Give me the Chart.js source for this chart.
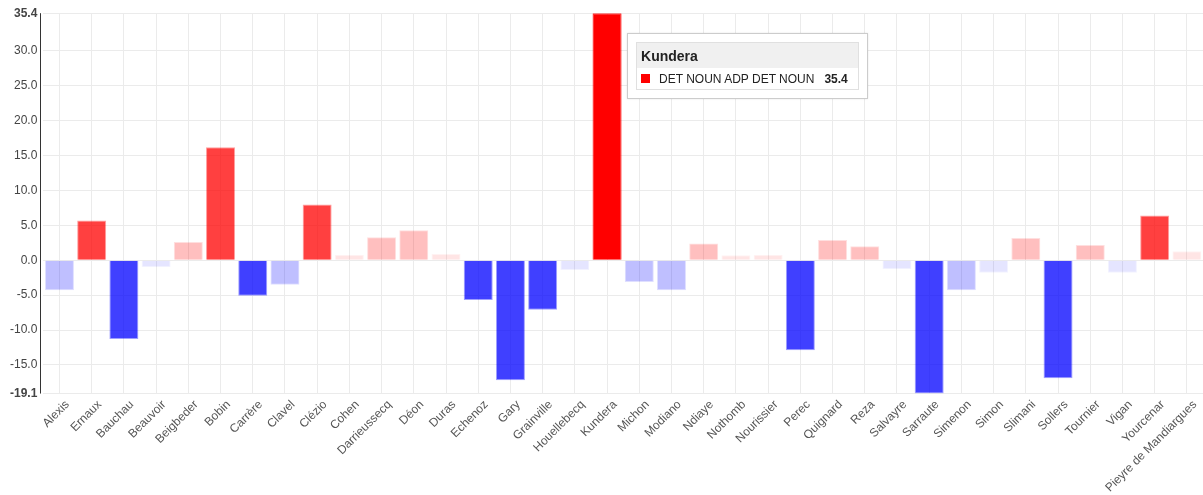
<!DOCTYPE html>
<html>
<head>
<meta charset="utf-8">
<script src="https://cdn.jsdelivr.net/npm/chart.js@4/dist/chart.umd.min.js"></script>
<style>
  html, body { margin: 0; padding: 0; background: #fff; }
  #wrap { position: relative; width: 1203px; height: 495px; overflow: hidden; }
  #tip {
    position: absolute; display: none; background: #fff;
    border: 1px solid #ccc; padding: 8px; font-family: "Liberation Sans", Arial, sans-serif;
    box-shadow: 0 0 2px rgba(0,0,0,0.1); pointer-events: none; white-space: nowrap;
  }
  #tip .head { background: #f0f0f0; border: 1px solid #e0e0e0; border-bottom: none;
    padding: 5px 4px 4px 4px; font-weight: bold; font-size: 14px; color: #222; }
  #tip .row { border: 1px solid #e0e0e0; border-top: none; padding: 4px 10px 3px 4px;
    font-size: 12px; color: #222; }
  #tip .sq { display: inline-block; width: 9px; height: 9px; margin-right: 9px; }
  #tip .val { font-weight: bold; margin-left: 10px; }
</style>
</head>
<body>
<div id="wrap">
  <canvas id="chart" width="1203" height="495"></canvas>
  <div id="tip"></div>
</div>
<script>
const AUTHORS = ['Alexis', 'Ernaux', 'Bauchau', 'Beauvoir', 'Beigbeder', 'Bobin', 'Carrère', 'Clavel',
  'Clézio', 'Cohen', 'Darrieussecq', 'Déon', 'Duras', 'Echenoz', 'Gary', 'Grainville', 'Houellebecq',
  'Kundera', 'Michon', 'Modiano', 'Ndiaye', 'Nothomb', 'Nourissier', 'Perec', 'Quignard', 'Reza',
  'Salvayre', 'Sarraute', 'Simenon', 'Simon', 'Slimani', 'Sollers', 'Tournier', 'Vigan', 'Yourcenar',
  'Pieyre de Mandiargues'];
const SCORES = [-4.3, 5.7, -11.3, -1.0, 2.6, 16.2, -5.1, -3.5,
  8.0, 0.8, 3.3, 4.3, 0.9, -5.7, -17.2, -7.1, -1.4,
  35.4, -3.1, -4.3, 2.4, 0.7, 0.8, -12.9, 2.9, 2.0,
  -1.3, -19.1, -4.3, -1.8, 3.2, -16.9, 2.2, -1.8, 6.4,
  1.3];
const SERIES_LABEL = 'DET NOUN ADP DET NOUN';
const Y_MIN = -19.1;
const Y_MAX = 35.4;
const ACTIVE = 17;

function alphaFor(v) {
  const a = Math.abs(v);
  if (a >= 5) return 0.75;
  if (a >= 2) return 0.25;
  return 0.1;
}
function colorFor(v, a) {
  return v >= 0 ? `rgba(255,0,0,${a})` : `rgba(0,0,255,${a})`;
}

const tipEl = document.getElementById('tip');
function externalTip(context) {
  const tt = context.tooltip;
  if (tt.opacity === 0 || !tt.dataPoints || !tt.dataPoints.length) {
    tipEl.style.display = 'none';
    return;
  }
  const dp = tt.dataPoints[0];
  const v = dp.raw;
  tipEl.innerHTML =
    `<div class="head">${dp.label}</div>` +
    `<div class="row"><span class="sq" style="background:${colorFor(v, 1)}"></span>` +
    `${SERIES_LABEL}<span class="val">${v.toFixed(1)}</span></div>`;
  tipEl.style.display = 'block';
  tipEl.style.left = (dp.element.x + 20) + 'px';
  tipEl.style.top = (context.chart.chartArea.top + 20) + 'px';
}

// y axis line sits a few px left of the first category
const axisLine = {
  id: 'axisLine',
  afterDraw(chart) {
    const { ctx, chartArea } = chart;
    const x = Math.round(chartArea.left) - 2.5;
    ctx.save();
    ctx.strokeStyle = '#333';
    ctx.lineWidth = 1;
    ctx.beginPath();
    ctx.moveTo(x, chartArea.top);
    ctx.lineTo(x, chartArea.bottom);
    ctx.stroke();
    ctx.restore();
  },
};

const FONT = { family: '"Liberation Sans", Arial, sans-serif', size: 12 };

const chart = new Chart(document.getElementById('chart').getContext('2d'), {
  type: 'bar',
  data: {
    labels: AUTHORS,
    datasets: [{
      label: SERIES_LABEL,
      data: SCORES,
      backgroundColor: SCORES.map(v => colorFor(v, alphaFor(v))),
      borderColor: SCORES.map(v => colorFor(v, alphaFor(v) * 0.5)),
      hoverBackgroundColor: SCORES.map(v => colorFor(v, 1)),
      hoverBorderColor: SCORES.map(v => colorFor(v, 1)),
      borderWidth: 1,
      barPercentage: 0.9,
      categoryPercentage: 1.0,
    }],
  },
  plugins: [axisLine],
  options: {
    responsive: false,
    animation: false,
    layout: { padding: { top: 13, left: 4, right: -2, bottom: -4 } },
    plugins: {
      legend: { display: false },
      tooltip: { enabled: false, external: externalTip },
    },
    scales: {
      x: {
        grid: { offset: false, color: '#ebebeb', drawTicks: false },
        border: { display: false },
        ticks: {
          autoSkip: false, maxRotation: 45, minRotation: 45,
          color: '#555', font: FONT, padding: 4, labelOffset: 8,
        },
      },
      y: {
        min: Y_MIN, max: Y_MAX,
        grid: { color: '#ebebeb', drawTicks: false },
        border: { display: false },
        ticks: {
          stepSize: 5, padding: 6, color: '#444',
          font: ctx => (ctx.tick && (ctx.tick.value === Y_MIN || ctx.tick.value === Y_MAX))
            ? Object.assign({}, FONT, { weight: 'bold' }) : FONT,
          callback: v => Number(v).toFixed(1),
        },
      },
    },
  },
});

const meta = chart.getDatasetMeta(0);
const el = meta.data[ACTIVE];
chart.setActiveElements([{ datasetIndex: 0, index: ACTIVE }]);
chart.tooltip.setActiveElements([{ datasetIndex: 0, index: ACTIVE }], { x: el.x, y: el.y });
chart.update();
</script>
</body>
</html>
